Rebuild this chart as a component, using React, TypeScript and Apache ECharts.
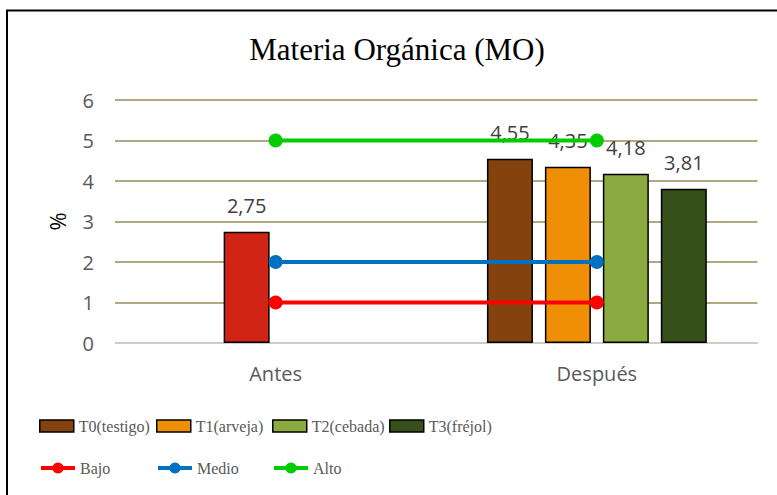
import React, { useEffect, useRef } from "react";
import * as echarts from "echarts";

const categories = ["Antes", "Después"];
const barNames = ["T0(testigo)", "T1(arveja)", "T2(cebada)", "T3(fréjol)"];
const t0Values = [null, 4.55];
const t1Values = [2.75, 4.35];
const t2Values = [null, 4.18];
const t3Values = [null, 3.81];
const lineNames = ["Bajo", "Medio", "Alto"];
const bajoValues = [1, 1];
const medioValues = [2, 2];
const altoValues = [5, 5];
const yTicks = { min: 0, max: 6, interval: 1 };

const barColors = ["#84420F", "#EE8F06", "#8BAA3F", "#374F1B"];
const antesColor = "#D22414";
const lineColors = ["#FF0000", "#0070C0", "#00CC00"];

const SANS = "'Open Sans', sans-serif";
const SERIF = "'Liberation Serif', 'Times New Roman', serif";

function fmt(v: any) {
  if (v === null || v === undefined || v === "-") return "";
  return Number(v).toFixed(2).replace(".", ",");
}

export default function App() {
  const ref = useRef<HTMLDivElement>(null);
  useEffect(() => {
    if (!ref.current) return;
    const chart = echarts.init(ref.current, undefined, { renderer: "svg" });
    const barData = [t0Values, t1Values, t2Values, t3Values];
    const lineData = [bajoValues, medioValues, altoValues];

    const barSeries = barData.map((vals, si) => ({
      name: barNames[si],
      type: "bar",
      barWidth: 46,
      barGap: "26%",
      itemStyle: { color: barColors[si], borderColor: "#000", borderWidth: 1.5 },
      label: {
        show: true,
        position: "top",
        distance: 16,
        fontFamily: SANS,
        fontSize: 20,
        color: "#404040",
        formatter: (p: any) => fmt(p.value),
      },
      data: vals.map((v, i) =>
        v === null
          ? "-"
          : si === 1 && i === 0
          ? { value: v, itemStyle: { color: antesColor } }
          : v
      ),
      z: 2,
    }));

    const lineSeries = lineData.map((vals, li) => ({
      name: lineNames[li],
      type: "line",
      symbol: "circle",
      symbolSize: 14,
      lineStyle: { color: lineColors[li], width: 4 },
      itemStyle: { color: lineColors[li] },
      data: vals,
      z: 5,
    }));

    const legendPos = [39, 156, 272, 389];
    const legends: any[] = [];
    barNames.forEach((n, i) => {
      legends.push({
        data: [{ name: n, icon: "rect" }],
        left: legendPos[i],
        top: 418,
        padding: 0,
        itemWidth: 34,
        itemHeight: 12,
        itemStyle: { borderColor: "#000", borderWidth: 1.5 },
        textStyle: { fontFamily: SERIF, fontSize: 16, color: "#595959" },
        selectedMode: false,
      });
    });
    lineNames.forEach((n, i) => {
      legends.push({
        data: [n],
        left: legendPos[i],
        top: 460,
        padding: 0,
        itemWidth: 34,
        itemHeight: 14,
        lineStyle: { width: 4 },
        textStyle: { fontFamily: SERIF, fontSize: 16, color: "#595959" },
        selectedMode: false,
      });
    });

    chart.setOption({
      animation: false,
      backgroundColor: "#ffffff",
      title: {
        text: "Materia Orgánica (MO)",
        left: 397,
        textAlign: "center",
        top: 34,
        padding: 0,
        textStyle: {
          fontFamily: SERIF,
          fontSize: 31,
          fontWeight: "normal",
          color: "#000000",
        },
      },
      legend: legends,
      grid: { left: 115, right: 19.5, top: 100, bottom: 152 },
      xAxis: {
        type: "category",
        data: categories,
        axisLine: { lineStyle: { color: "#D9D9D9", width: 1.5 } },
        axisTick: { show: false },
        axisLabel: { fontFamily: SANS, fontSize: 20, color: "#595959", margin: 20 },
      },
      yAxis: {
        type: "value",
        min: yTicks.min,
        max: yTicks.max,
        interval: yTicks.interval,
        name: "%",
        nameLocation: "middle",
        nameRotate: 90,
        nameGap: 47,
        nameTextStyle: { fontFamily: SANS, fontSize: 22, color: "#000000" },
        axisLine: { show: false },
        axisTick: { show: false },
        axisLabel: { fontFamily: SANS, fontSize: 20, color: "#595959", margin: 21 },
        splitLine: { lineStyle: { color: "#958B57", width: 1.5 } },
      },
      graphic: [
        {
          type: "rect",
          shape: { x: 7, y: 10.5, width: 800, height: 520 },
          style: { fill: "none", stroke: "#000000", lineWidth: 2 },
          silent: true,
          z: 100,
        },
      ],
      series: [...barSeries, ...lineSeries],
    });
    return () => chart.dispose();
  }, []);
  return (
    <div
      ref={ref}
      style={{ position: "absolute", left: 0, top: 0, width: 777, height: 495 }}
    />
  );
}
